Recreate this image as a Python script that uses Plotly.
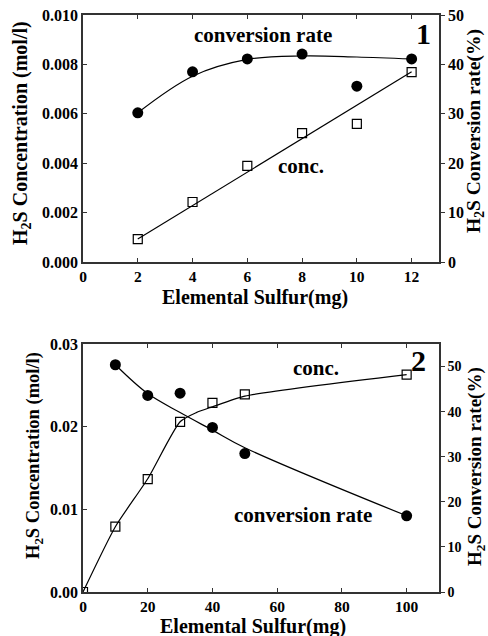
import plotly.graph_objects as go

# ---------------- data ----------------
# Panel 1
p1_sulfur = [2, 4, 6, 8, 10, 12]
p1_conc = [0.00093, 0.00243, 0.00389, 0.00522, 0.00559, 0.00769]
p1_rate = [30.2, 38.5, 41.1, 42.1, 35.6, 41.1]
p1_conc_fit_x = [2, 12]
p1_conc_fit_y = [0.00093, 0.0077]
p1_rate_fit_x = [2, 4, 6, 8, 10, 12]
p1_rate_fit_y = [30.2, 37.6, 41.0, 41.7, 41.5, 41.1]
p1_xticks = [0, 2, 4, 6, 8, 10, 12]
p1_yticks_left = [0.0, 0.002, 0.004, 0.006, 0.008, 0.010]
p1_yticklabels_left = ["0.000", "0.002", "0.004", "0.006", "0.008", "0.010"]
p1_yticks_right = [0, 10, 20, 30, 40, 50]

# Panel 2
p2_sulfur = [0, 10, 20, 30, 40, 50, 100]
p2_conc = [0.0, 0.0079, 0.01366, 0.02057, 0.02287, 0.0239, 0.0263]
p2_rate_x = [10, 20, 30, 40, 50, 100]
p2_rate = [50.4, 43.6, 44.1, 36.5, 30.7, 16.9]
p2_conc_fit_x = [0, 10, 20, 30, 35, 40, 50, 100]
p2_conc_fit_y = [0.0, 0.0079, 0.0137, 0.0206, 0.0217, 0.0224, 0.0237, 0.0263]
p2_rate_fit_x = [10, 20, 30, 40, 50, 100]
p2_rate_fit_y = [50.4, 44.0, 39.8, 35.9, 32.0, 16.9]
p2_xticks = [0, 20, 40, 60, 80, 100]
p2_yticks_left = [0.0, 0.01, 0.02, 0.03]
p2_yticklabels_left = ["0.00", "0.01", "0.02", "0.03"]
p2_yticks_right = [0, 10, 20, 30, 40, 50]

W, H = 488, 636
FONT = "Liberation Serif, Times New Roman, serif"
AXC = "#333333"


def fx(px):
    return px / W


def fy(py):
    return 1 - py / H


def bold(labels):
    return ["<b>%s</b>" % s for s in labels]


fig = go.Figure()

# ---- panel 1 ----
fig.add_trace(go.Scatter(x=p1_conc_fit_x, y=p1_conc_fit_y, mode="lines",
                         line=dict(color="black", width=1.2), xaxis="x", yaxis="y"))
fig.add_trace(go.Scatter(x=p1_sulfur, y=p1_conc, mode="markers",
                         marker=dict(symbol="square-open", size=9, color="black",
                                     line=dict(width=1.2)), xaxis="x", yaxis="y"))
fig.add_trace(go.Scatter(x=p1_rate_fit_x, y=p1_rate_fit_y, mode="lines",
                         line=dict(color="black", width=1.2, shape="spline"),
                         xaxis="x", yaxis="y2"))
fig.add_trace(go.Scatter(x=p1_sulfur, y=p1_rate, mode="markers",
                         marker=dict(symbol="circle", size=11, color="black"),
                         xaxis="x", yaxis="y2"))

# ---- panel 2 ----
fig.add_trace(go.Scatter(x=p2_conc_fit_x, y=p2_conc_fit_y, mode="lines",
                         line=dict(color="black", width=1.2, shape="spline", smoothing=0.6),
                         xaxis="x2", yaxis="y3"))
fig.add_trace(go.Scatter(x=p2_sulfur, y=p2_conc, mode="markers",
                         marker=dict(symbol="square-open", size=9, color="black",
                                     line=dict(width=1.2)), xaxis="x2", yaxis="y3"))
fig.add_trace(go.Scatter(x=p2_rate_fit_x, y=p2_rate_fit_y, mode="lines",
                         line=dict(color="black", width=1.2, shape="spline"),
                         xaxis="x2", yaxis="y4"))
fig.add_trace(go.Scatter(x=p2_rate_x, y=p2_rate, mode="markers",
                         marker=dict(symbol="circle", size=11, color="black"),
                         xaxis="x2", yaxis="y4"))


def tickfont(size):
    return dict(family=FONT, size=size, color="black")


xdom = [fx(83), fx(439)]
y1dom = [fy(262), fy(15)]
y2dom = [fy(592), fy(344)]

common_x = dict(showline=True, linecolor=AXC, linewidth=1.6, ticks="inside",
                ticklen=4, tickcolor=AXC, tickwidth=1.2, mirror="ticks",
                showgrid=False, zeroline=False, automargin=False, domain=xdom,
                tickmode="array")
common_yl = dict(showline=True, linecolor=AXC, linewidth=1.6, ticks="inside",
                 ticklen=4, tickcolor=AXC, tickwidth=1.2, mirror=False,
                 showgrid=False, zeroline=False, automargin=False, tickmode="array")
common_yr = dict(showline=True, linecolor=AXC, linewidth=1.6, ticks="outside",
                 ticklen=4, tickcolor=AXC, tickwidth=1.2, side="right",
                 showgrid=False, zeroline=False, automargin=False, tickmode="array")

fig.update_layout(
    width=W, height=H, template="none",
    font=dict(family=FONT, color="black"),
    paper_bgcolor="white", plot_bgcolor="white",
    margin=dict(l=0, r=0, t=0, b=0, autoexpand=False),
    showlegend=False,
    xaxis=dict(common_x, range=[0, 13], tickvals=p1_xticks,
               ticktext=bold([str(v) for v in p1_xticks]),
               tickfont=tickfont(15.5), anchor="y"),
    yaxis=dict(common_yl, range=[0, 0.010], tickvals=p1_yticks_left,
               ticktext=bold(p1_yticklabels_left),
               tickfont=tickfont(16), domain=y1dom, anchor="x"),
    yaxis2=dict(common_yr, range=[0, 50], tickvals=p1_yticks_right,
                ticktext=bold([str(v) for v in p1_yticks_right]),
                tickfont=tickfont(16), overlaying="y", anchor="x"),
    xaxis2=dict(common_x, range=[0, 110], tickvals=p2_xticks,
                ticktext=bold([str(v) for v in p2_xticks]),
                tickfont=tickfont(15.5), anchor="y3"),
    yaxis3=dict(common_yl, range=[0, 0.03], tickvals=p2_yticks_left,
                ticktext=bold(p2_yticklabels_left),
                tickfont=tickfont(16), domain=y2dom, anchor="x2"),
    yaxis4=dict(common_yr, range=[0, 55], tickvals=p2_yticks_right,
                ticktext=bold([str(v) for v in p2_yticks_right]),
                tickfont=tickfont(14), overlaying="y3", anchor="x2"),
)


def ann(text, px, py, size, angle=0):
    fig.add_annotation(text=text, x=fx(px), y=fy(py), xref="paper", yref="paper",
                       showarrow=False, textangle=angle, xanchor="center",
                       yanchor="middle", borderpad=0,
                       font=dict(family=FONT, size=size, color="black"))


# axis titles
ann("<b>H<sub>2</sub>S Concentration (mol/l)</b>", 21, 133, 20, -90)
ann("<b>H<sub>2</sub>S Conversion rate(%)</b>", 475, 131, 19.5, -90)
ann("<b>Elemental Sulfur(mg)</b>", 255, 297, 20)
ann("<b>H<sub>2</sub>S Concentration (mol/l)</b>", 35, 456, 18.5, -90)
ann("<b>H<sub>2</sub>S Conversion rate(%)</b>", 476, 467, 19, -90)
ann("<b>Elemental Sulfur(mg)</b>", 253, 626, 20)

# in-plot labels
ann("<b>conversion rate</b>", 263, 35, 21)
ann("<b>conc.</b>", 301, 166, 21)
ann("<b>1</b>", 423, 33, 30)
ann("<b>conc.</b>", 316, 368, 21)
ann("<b>conversion rate</b>", 303, 515, 21)
ann("<b>2</b>", 418, 360, 30)

fig.write_html("out.html",
               config={"displayModeBar": False},
               post_script="document.body.style.margin='0';"
                           "document.body.style.padding='0';"
                           "document.body.style.overflow='hidden';")
